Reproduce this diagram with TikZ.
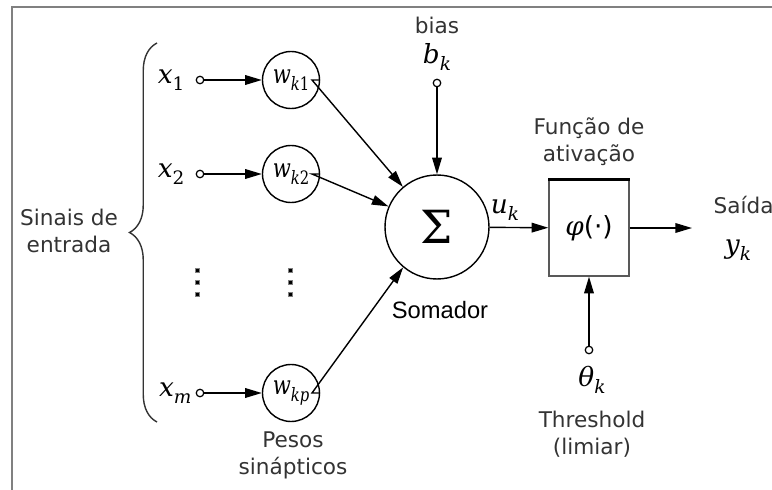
\documentclass[tikz,border=0pt]{standalone}
\usepackage{fontspec}
\setmainfont{DejaVu Sans}
\newfontfamily\serifit{DejaVu Serif}
\newfontfamily\serifnarrow{DejaVu Serif}[FakeStretch=0.8]
\newfontfamily\arialfont{Liberation Sans}
\usetikzlibrary{arrows.meta, positioning, decorations.pathreplacing}
\definecolor{labelgray}{HTML}{333333}
\def\subsize{10.5}
\let\mfam\serifit
\newcommand{\mvar}[2]{{\mfam\itshape #1\raisebox{-0.5ex}{\fontsize{\subsize}{12}\selectfont #2}}}

\begin{document}
\begin{tikzpicture}[x=0.02cm, y=-0.02cm, line width=0.8pt,
  every node/.style={inner sep=0pt},
  txt/.style={text=labelgray, font=\fontsize{12.3}{15.4}\selectfont, align=center},
  sym/.style={font=\fontsize{15}{18}\selectfont},
  port/.style={circle, draw, fill=white, line width=0.7pt, minimum size=0.15cm},
  weight/.style={circle, draw, minimum size=1.14cm, font=\fontsize{15}{17}\selectfont\def\subsize{10.5}\let\mfam\serifnarrow},
  arr/.style={-{Triangle[length=9.5pt,width=5.5pt]}}]

\useasboundingbox (0,0) rectangle (772,490);
% frame
\draw[gray, line width=1.2pt] (12,490) -- (12,7) -- (772,7);

% inputs and weights
\node[port] (in1) at (200,80) {};
\node[port] (in2) at (200,174) {};
\node[port] (inm) at (200,393) {};
\node[sym, left=6pt of in1] (x1) {\mvar{x}{\upshape 1}};
\node[sym, left=6pt of in2] (x2) {\mvar{x}{\upshape 2}};
\node[sym, left=2pt of inm] (xm) {\mvar{x}{m}};
\node[weight] (w1) at (291,80) {\mvar{w}{k\upshape1}};
\node[weight] (w2) at (291,174) {\mvar{w}{k\upshape2}};
\node[weight] (wp) at (291,393) {\mvar{w}{kp}};

% dots
\foreach \x in {197,290}
  \foreach \y in {270,282,294}
    \filldraw[fill=black, draw=gray, line width=0.3pt] ([shift={(-2,-2)}]\x,\y) rectangle ++(4,4);

% summing junction and activation
\node[circle, draw, minimum size=2.08cm, font=\fontsize{26}{28}\selectfont] (sum) at (437,227) {\serifit Σ};
\node[draw=black!65, minimum width=1.6cm, minimum height=1.92cm, font=\fontsize{15}{18}\selectfont] (act) at (589,228)
  {{\serifit\itshape φ}(·)};
\draw[line width=1.4pt] (act.north west) -- (act.north east);

% bias and threshold
\node[port] (bport) at (437,83) {};
\node[sym] (bk) at (437,57) {\mvar{b}{k}};
\node[port] (tport) at (589,350) {};
\node[sym] (thk) at (592,380) {\mvar{θ}{k}};
\coordinate (out) at (692,228);

% connections
\draw[arr] (in1) -- (w1);
\draw[arr] (in2) -- (w2);
\draw[arr] (inm) -- (wp);
\draw[arr] (w1) -- ++(21,0) -- (sum);
\draw[arr] (w2) -- ++(21,0) -- (sum);
\draw[arr] (wp) -- ++(21,0) -- (sum.230);
\draw[arr] (bport) -- (sum);
\draw[arr] (sum) -- (act);
\draw[arr] (act) -- (out);
\draw[arr] (tport) -- (act);

% brace
\draw[labelgray, decorate, decoration={brace, amplitude=0.55cm}] (157,422) -- (157,43);

% labels
\node[txt] (inlbl) at (69,231) {Sinais de\\entrada};
\node[txt] (biaslbl) at (437,25) {bias};
\node[sym] (uk) at (505,210) {\mvar{u}{k}};
\node[txt] (actlbl) at (589,142) {Função de\\ativação};
\node[txt, anchor=west] (outlbl) at (713,205) {Saída};
\node[sym] (yk) at (738,250) {\mvar{y}{k}};
\node[font=\arialfont\fontsize{13.5}{16}\selectfont] (somlbl) at (440,310) {Somador};
\node[txt] (thlbl) at (592,434) {Threshold\\(limiar)};
\node[txt] (wlbl) at (293,455) {Pesos\\sinápticos};
\end{tikzpicture}
\end{document}
